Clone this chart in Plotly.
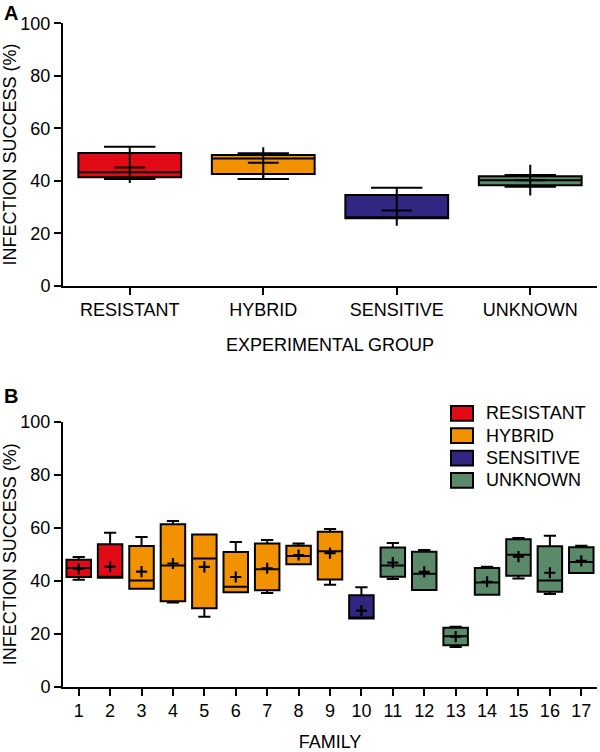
import plotly.graph_objects as go

# ---------------- data ----------------
groups = ["RESISTANT", "HYBRID", "SENSITIVE", "UNKNOWN"]
colors = ["#E30A17", "#F39200", "#312783", "#5A8A6A"]

# Panel A: per experimental group
a_low = [40.7, 40.7, 25.7, 37.7]
a_q1 = [41.3, 42.6, 25.7, 38.3]
a_med = [43.2, 48.5, 25.7, 40.2]
a_q3 = [50.6, 49.8, 34.6, 41.7]
a_high = [53.0, 50.5, 37.3, 42.2]
a_mean = [45.0, 46.9, 28.7, 40.2]

# Panel B: per family
families = list(range(1, 18))
family_group = ["RESISTANT"] * 2 + ["HYBRID"] * 7 + ["SENSITIVE"] + ["UNKNOWN"] * 7
b_low = [40.4, 41.1, 37.0, 31.8, 26.4, 35.6, 35.4, 46.2, 38.5, 25.7, 40.6, 36.5, 15.0, 34.7, 40.8, 35.0, 42.9]
b_q1 = [41.4, 41.1, 37.0, 32.2, 29.6, 35.6, 36.4, 46.2, 40.5, 25.7, 41.5, 36.5, 15.6, 34.7, 41.9, 35.8, 42.9]
b_med = [44.8, 41.1, 40.1, 45.7, 48.4, 37.7, 44.3, 49.3, 51.1, 25.7, 45.7, 42.6, 19.0, 39.3, 49.8, 40.1, 47.1]
b_q3 = [47.9, 53.8, 53.1, 61.3, 57.4, 50.8, 54.0, 53.2, 58.5, 34.5, 52.5, 50.9, 22.2, 44.8, 55.6, 53.0, 52.6]
b_high = [48.9, 58.1, 56.5, 62.5, 57.4, 54.6, 55.4, 54.0, 59.5, 37.5, 54.2, 51.6, 22.6, 45.3, 56.1, 57.0, 53.2]
b_mean = [44.5, 45.3, 43.4, 46.5, 45.2, 41.4, 44.7, 49.7, 50.4, 28.7, 46.8, 43.3, 18.9, 39.6, 49.1, 43.0, 47.5]

y_title = "INFECTION SUCCESS (%)"
xa_title = "EXPERIMENTAL GROUP"
xb_title = "FAMILY"

# ---------------- figure ----------------
W, H = 600, 752
FONT = "Liberation Sans, Arial, sans-serif"


def px_x(p):
    return p / W


def px_y(p):
    return 1 - p / H


fig = go.Figure()

# Panel A boxes
for i, g in enumerate(groups):
    fig.add_trace(go.Box(
        x=[g], q1=[a_q1[i]], median=[a_med[i]], q3=[a_q3[i]],
        lowerfence=[a_low[i]], upperfence=[a_high[i]],
        fillcolor=colors[i], line=dict(color="black", width=2),
        width=0.77, whiskerwidth=0.5, boxpoints=False,
        xaxis="x", yaxis="y", showlegend=False, name=g,
    ))
fig.add_trace(go.Scatter(
    x=groups, y=a_mean, mode="markers",
    marker=dict(symbol="cross-thin", size=22, line=dict(color="black", width=2)),
    xaxis="x", yaxis="y", showlegend=False, name="mean",
))

# Panel B boxes, one trace per group
for i, g in enumerate(groups):
    idx = [k for k, fg in enumerate(family_group) if fg == g]
    fig.add_trace(go.Box(
        x=[families[k] for k in idx],
        q1=[b_q1[k] for k in idx], median=[b_med[k] for k in idx],
        q3=[b_q3[k] for k in idx], lowerfence=[b_low[k] for k in idx],
        upperfence=[b_high[k] for k in idx],
        fillcolor=colors[i], line=dict(color="black", width=2),
        width=0.78, whiskerwidth=0.5, boxpoints=False,
        xaxis="x2", yaxis="y2", showlegend=False, name=g,
    ))
fig.add_trace(go.Scatter(
    x=families, y=b_mean, mode="markers",
    marker=dict(symbol="cross-thin", size=8, line=dict(color="black", width=2.2)),
    xaxis="x2", yaxis="y2", showlegend=False, name="mean",
))

axis_common = dict(
    showline=True, linecolor="black", linewidth=2, mirror=False,
    ticks="outside", ticklen=7, tickwidth=2, tickcolor="black",
    showgrid=False, zeroline=False,
    tickfont=dict(family=FONT, size=18, color="black"),
)

fig.update_layout(
    width=W, height=H,
    margin=dict(l=0, r=0, t=0, b=0, autoexpand=False),
    paper_bgcolor="white", plot_bgcolor="white",
    font=dict(family=FONT, size=18, color="black"),
    showlegend=False,
    xaxis=dict(domain=[px_x(63), px_x(597)], anchor="y", type="category",
               categoryorder="array", categoryarray=groups,
               range=[-0.5, 3.5],
               title=dict(text=xa_title, font=dict(family=FONT, size=18), standoff=19),
               **axis_common),
    yaxis=dict(domain=[px_y(285.7), px_y(23.3)], anchor="x", range=[0, 100],
               tickvals=[0, 20, 40, 60, 80, 100],
               title=dict(text=y_title, font=dict(family=FONT, size=18), standoff=6),
               **axis_common),
    xaxis2=dict(domain=[px_x(63), px_x(597)], anchor="y2", range=[0.5, 17.5],
                tickmode="linear", tick0=1, dtick=1,
                title=dict(text=xb_title, font=dict(family=FONT, size=18), standoff=22),
                **axis_common),
    yaxis2=dict(domain=[px_y(686.7), px_y(421.7)], anchor="x2", range=[0, 100],
                tickvals=[0, 20, 40, 60, 80, 100],
                title=dict(text=y_title, font=dict(family=FONT, size=18), standoff=6),
                **axis_common),
)

# Panel letters
for letter, ytop in (("A", 0), ("B", 383)):
    fig.add_annotation(text="<b>%s</b>" % letter, x=px_x(2), y=px_y(ytop),
                       xref="paper", yref="paper", xanchor="left", yanchor="top",
                       showarrow=False, font=dict(family=FONT, size=20, color="black"))

# Legend (panel B, top right)
leg_top = [406, 428.3, 450.7, 473]
for i, g in enumerate(groups):
    fig.add_shape(type="rect", xref="paper", yref="paper",
                  x0=px_x(451), x1=px_x(473), y0=px_y(leg_top[i] + 14.7), y1=px_y(leg_top[i]),
                  fillcolor=colors[i], line=dict(color="black", width=2))
    fig.add_annotation(text=g, x=px_x(484), y=px_y(leg_top[i] + 7.3),
                       xref="paper", yref="paper", xanchor="left", yanchor="middle",
                       showarrow=False, font=dict(family=FONT, size=18, color="black"))

fig.write_html(
    "out.html",
    config={"displayModeBar": False},
    post_script="document.body.style.margin='0';document.body.style.overflow='hidden';",
)
